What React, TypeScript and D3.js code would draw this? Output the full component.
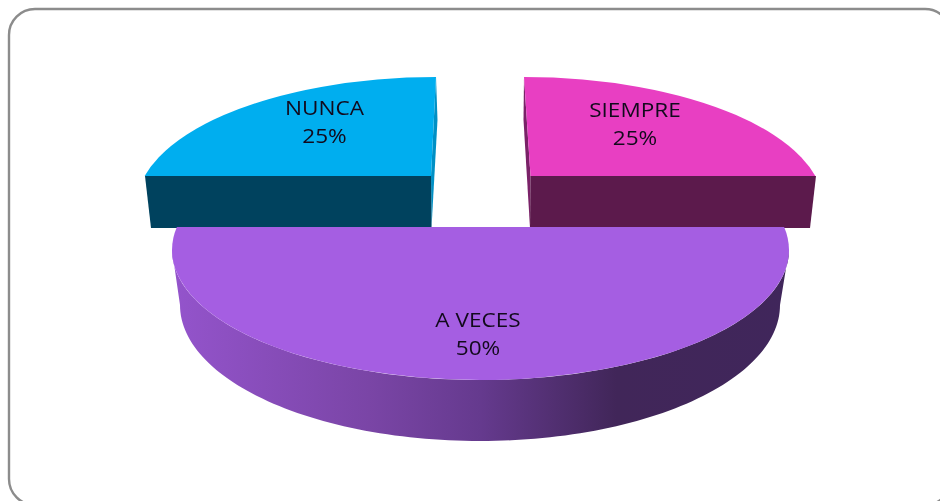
import React from "react";
import * as d3 from "d3";

const categories = ["SIEMPRE", "A VECES", "NUNCA"];
const shares = [25, 50, 25];
const percentLabels = ["25%", "50%", "25%"];
const topColors = ["#e83fc2", "#a55ee2", "#00aeef"];
const wallColors = ["#5c1a4c", "#40265b", "#00425e"];
const edgeColors = ["#7a2268", "#40265b", "#0090c5"];

const W = 940, H = 501;
const RX = 300, RY = 130;
const arcGen = d3.arc<any>().innerRadius(0).outerRadius(1);
const pieGen = d3.pie<number>().sort(null).value((d) => d);
const slices = pieGen(shares);

function ringPoints(cx: number, cy: number, rx: number, ry: number, a0: number, a1: number, n = 120) {
  const t = d3.scaleLinear().domain([0, n]).range([a0, a1]);
  return d3.range(n + 1).map((i) => [cx + rx * Math.sin(t(i)), cy - ry * Math.cos(t(i))] as [number, number]);
}
const line = d3.line();

function Label({ x, y, a, b }: { x: number; y: number; a: string; b: string }) {
  return (
    <g transform={`translate(${x},${y}) scale(1.13,1)`}>
      <text x={0} y={0}>{a}</text>
      <text x={0} y={28}>{b}</text>
    </g>
  );
}

export default function App() {
  const [s, m, n] = slices;
  const wallTop = ringPoints(480.5, 250, 308.5, 130, m.startAngle, m.endAngle);
  const wallBottom = ringPoints(480, 305, 300, 136, m.endAngle, m.startAngle);
  const wallPath = line([...wallTop, ...wallBottom]) + "Z";
  return (
    <svg width={W} height={H} style={{ position: "fixed", left: 0, top: 0, display: "block" }}>
      <defs>
        <linearGradient id="wall" gradientUnits="userSpaceOnUse" x1="172" x2="789" y1="0" y2="0">
          <stop offset="0" stopColor="#9454cc" />
          <stop offset="0.32" stopColor="#7a45a6" />
          <stop offset="0.5" stopColor="#653a8e" />
          <stop offset="0.72" stopColor="#412659" />
          <stop offset="1" stopColor="#40265b" />
        </linearGradient>
        <clipPath id="clipN"><polygon points="100,50 436,50 436,77 431,176 100,176" /></clipPath>
        <clipPath id="clipS"><polygon points="524,50 860,50 860,176 530.5,176 524,77" /></clipPath>
        <clipPath id="clipM"><rect x="100" y="227" width="760" height="260" /></clipPath>
      </defs>
      <rect x="9" y="9" width="942" height="496" rx="26" ry="26" fill="#fff" stroke="#8c8c8c" strokeWidth="2.4" />

      <polygon points="436,77 437.5,120 431.5,228 431,176" fill={edgeColors[2]} />
      <polygon points="145,176 431,176 431.5,228 151,228" fill={wallColors[2]} />

      <polygon points="524,77 523.5,120 530,228 530.5,176" fill={edgeColors[0]} />
      <polygon points="530.5,176 816,176 810,228 530,228" fill={wallColors[0]} />

      <g clipPath="url(#clipN)">
        <path d={arcGen(n) as string} transform={`translate(436,207) scale(${RX},${RY})`} fill={topColors[2]} />
      </g>
      <g clipPath="url(#clipS)">
        <path d={arcGen(s) as string} transform={`translate(524,207) scale(${RX},${RY})`} fill={topColors[0]} />
      </g>

      <path d={wallPath} fill="url(#wall)" />
      <g clipPath="url(#clipM)">
        <ellipse cx={480.5} cy={250} rx={308.5} ry={130} fill={topColors[1]} />
      </g>

      <g fontFamily="Open Sans" fontSize="20" fill="#120a1c" textAnchor="middle">
        <Label x={635} y={117} a={categories[0]} b={percentLabels[0]} />
        <Label x={478} y={327} a={categories[1]} b={percentLabels[1]} />
        <Label x={324.5} y={115} a={categories[2]} b={percentLabels[2]} />
      </g>
    </svg>
  );
}
